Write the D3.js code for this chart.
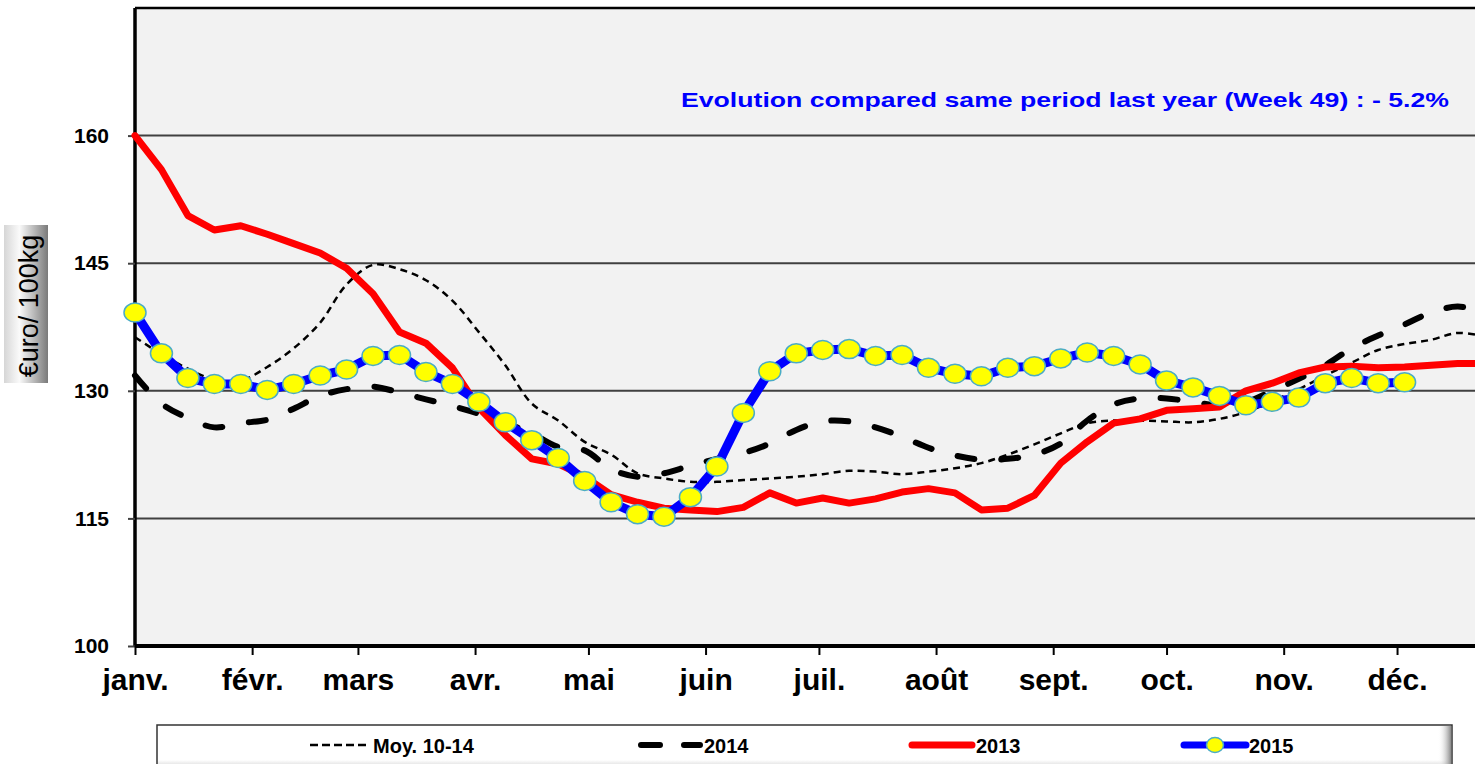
<!DOCTYPE html>
<html>
<head>
<meta charset="utf-8">
<script src="https://cdn.jsdelivr.net/npm/d3@7"></script>
<style>
  body { margin: 0; background: #fff; }
  svg { display: block; font-family: "Liberation Sans", Arial, sans-serif; }
</style>
</head>
<body>
<svg id="chart" width="1475" height="764"></svg>
<script>
// month labels and the day of year where each month starts
const months = ['janv.', 'févr.', 'mars', 'avr.', 'mai', 'juin', 'juil.', 'août', 'sept.', 'oct.', 'nov.', 'déc.'];
const monthStartDay = [0, 31, 59, 90, 120, 151, 181, 212, 243, 273, 304, 334];
const yTicks = [100, 115, 130, 145, 160];

// weekly prices, week 1 first
const moy1014 = [136.3, 134.3, 132.6, 131.3, 131.2, 132.8, 135.0, 138.0, 142.5, 144.8, 144.3, 143.0, 140.6,
  136.9, 133.0, 128.5, 126.5, 124.0, 122.5, 120.3, 119.7, 119.3, 119.3, 119.5, 119.7, 119.9, 120.2,
  120.6, 120.5, 120.2, 120.5, 120.9, 121.5, 122.5, 123.7, 125.0, 126.2, 126.5, 126.5, 126.4, 126.3,
  126.7, 127.5, 128.8, 130.2, 131.8, 133.3, 134.8, 135.5, 136.0, 136.8, 136.4];
const y2014 = [131.8, 128.5, 126.8, 125.7, 126.2, 126.6, 127.9, 129.4, 130.2, 130.5, 129.8, 129.0, 128.2,
  127.3, 126.2, 125.0, 123.4, 123.0, 120.8, 119.9, 120.3, 121.2, 122.0, 122.7, 123.8, 125.4, 126.4,
  126.4, 125.7, 124.6, 123.3, 122.4, 121.9, 122.0, 122.5, 123.8, 126.5, 128.4, 129.1, 129.1, 128.7,
  128.3, 128.7, 130.0, 131.4, 133.0, 135.0, 136.5, 137.8, 139.2, 139.9, 139.3];
const y2013 = [160.0, 156.0, 150.6, 148.9, 149.4, 148.4, 147.3, 146.2, 144.4, 141.4, 136.9, 135.6, 132.7,
  128.0, 124.8, 122.0, 121.4, 119.9, 117.8, 116.9, 116.2, 116.0, 115.8, 116.3, 118.0, 116.8, 117.4,
  116.8, 117.3, 118.1, 118.5, 118.0, 116.0, 116.2, 117.7, 121.5, 124.0, 126.2, 126.7, 127.7, 127.9,
  128.1, 130.0, 130.9, 132.1, 132.8, 132.9, 132.7, 132.8, 133.0, 133.2, 133.2];
const y2015 = [139.2, 134.4, 131.5, 130.8, 130.8, 130.1, 130.8, 131.8, 132.5, 134.1, 134.2, 132.2, 130.8,
  128.7, 126.3, 124.2, 122.1, 119.4, 116.9, 115.5, 115.2, 117.5, 121.1, 127.4, 132.3, 134.4, 134.8,
  134.9, 134.1, 134.2, 132.7, 132.0, 131.7, 132.7, 132.9, 133.8, 134.5, 134.1, 133.1, 131.2, 130.4,
  129.4, 128.3, 128.7, 129.2, 130.9, 131.5, 130.9, 131.0];

const svg = d3.select('#chart');
const W = 1475, H = 764;
const plot = {left: 135, top: 8, bottom: 646};

const x = d3.scaleLinear().domain([0, 365]).range([plot.left, plot.left + 365 * 26.45 / 7]);
const y = d3.scaleLinear().domain([100, 175]).range([plot.bottom, plot.top]);
const weekX = (d, i) => x(i * 7);

const defs = svg.append('defs');
const lg = defs.append('linearGradient').attr('id', 'ylab').attr('x1', 0).attr('x2', 1).attr('y1', 0).attr('y2', 0);
lg.append('stop').attr('offset', '0%').attr('stop-color', '#d6d6d6');
lg.append('stop').attr('offset', '35%').attr('stop-color', '#fafafa');
lg.append('stop').attr('offset', '100%').attr('stop-color', '#7a7a7a');
const leg = defs.append('linearGradient').attr('id', 'legbg').attr('x1', 0).attr('x2', 0).attr('y1', 0).attr('y2', 1);
leg.append('stop').attr('offset', '0%').attr('stop-color', '#ffffff');
leg.append('stop').attr('offset', '70%').attr('stop-color', '#ffffff');
leg.append('stop').attr('offset', '100%').attr('stop-color', '#a8a8a8');
const legR = defs.append('linearGradient').attr('id', 'legright').attr('x1', 0).attr('x2', 1).attr('y1', 0).attr('y2', 0);
legR.append('stop').attr('offset', '0%').attr('stop-color', '#ffffff').attr('stop-opacity', 0);
legR.append('stop').attr('offset', '100%').attr('stop-color', '#8a8a8a');

// plot background
svg.append('rect')
  .attr('x', plot.left).attr('y', plot.top)
  .attr('width', W - plot.left + 10).attr('height', plot.bottom - plot.top)
  .attr('fill', '#f2f2f2');

// gridlines
svg.append('g')
  .selectAll('line')
  .data(yTicks.slice(1))
  .enter().append('line')
  .attr('x1', plot.left).attr('x2', W + 10)
  .attr('y1', d => y(d)).attr('y2', d => y(d))
  .attr('stroke', '#404040').attr('stroke-width', 2);

// frame top + left
svg.append('line').attr('x1', plot.left).attr('x2', W + 10).attr('y1', plot.top).attr('y2', plot.top)
  .attr('stroke', '#000').attr('stroke-width', 2.5);

// y axis
const yAxis = svg.append('g')
  .attr('transform', `translate(${plot.left},0)`)
  .call(d3.axisLeft(y).tickValues(yTicks).tickSize(7).tickPadding(19).tickSizeOuter(0));
yAxis.select('.domain').attr('stroke', '#000').attr('stroke-width', 3.5)
  .attr('d', `M0,${plot.top}V${plot.bottom}`);
yAxis.selectAll('.tick line').attr('stroke', '#404040').attr('stroke-width', 2);
yAxis.selectAll('.tick text')
  .attr('font-size', 21).attr('font-weight', 'bold').attr('fill', '#000')
  .attr('font-family', '"Liberation Sans", Arial, sans-serif');

// x axis
const xAxis = svg.append('g')
  .attr('transform', `translate(0,${plot.bottom})`)
  .call(d3.axisBottom(x).tickValues(monthStartDay).tickFormat((d, i) => months[i]).tickSize(9).tickSizeOuter(0));
xAxis.select('.domain').attr('stroke', '#000').attr('stroke-width', 4)
  .attr('d', `M${plot.left},0H${W + 10}`);
xAxis.selectAll('.tick line').attr('stroke', '#000').attr('stroke-width', 2);
xAxis.selectAll('.tick text')
  .attr('y', 44).attr('dy', 0)
  .attr('font-size', 30).attr('font-weight', 'bold').attr('fill', '#000')
  .attr('font-family', '"Liberation Sans", Arial, sans-serif');

// series
const smooth = d3.line().x(weekX).y(d => y(d)).curve(d3.curveCatmullRom.alpha(0.5));
const straight = d3.line().x(weekX).y(d => y(d));

svg.append('path').datum(moy1014)
  .attr('d', smooth).attr('fill', 'none')
  .attr('stroke', '#000').attr('stroke-width', 2.5).attr('stroke-dasharray', '7,5');

svg.append('path').datum(y2014)
  .attr('d', smooth).attr('fill', 'none')
  .attr('stroke', '#000').attr('stroke-width', 6).attr('stroke-linecap', 'round')
  .attr('stroke-dasharray', '17,27');

svg.append('path').datum(y2013)
  .attr('d', straight).attr('fill', 'none')
  .attr('stroke', '#ff0000').attr('stroke-width', 7).attr('stroke-linejoin', 'round').attr('stroke-linecap', 'round');

svg.append('path').datum(y2015)
  .attr('d', straight).attr('fill', 'none')
  .attr('stroke', '#0000ff').attr('stroke-width', 9).attr('stroke-linejoin', 'round');

svg.append('g').selectAll('ellipse')
  .data(y2015)
  .enter().append('ellipse')
  .attr('cx', weekX).attr('cy', d => y(d))
  .attr('rx', 11).attr('ry', 9.5)
  .attr('fill', '#ffff00').attr('stroke', '#4bacc6').attr('stroke-width', 1.5);

// annotation
svg.append('text')
  .attr('x', 681).attr('y', 107)
  .attr('textLength', 768).attr('lengthAdjust', 'spacingAndGlyphs')
  .attr('font-size', 21).attr('font-weight', 'bold').attr('fill', '#0000ff')
  .text('Evolution compared same period last year (Week 49) : - 5.2%');

// y label box
svg.append('rect').attr('x', 4).attr('y', 225).attr('width', 44).attr('height', 158).attr('fill', 'url(#ylab)');
svg.append('text')
  .attr('transform', 'translate(38,306) rotate(-90)')
  .attr('text-anchor', 'middle')
  .attr('font-size', 27).attr('fill', '#000')
  .text('€uro/ 100kg');

// legend
const lgG = svg.append('g');
lgG.append('rect').attr('x', 157).attr('y', 725).attr('width', 1295).attr('height', 50)
  .attr('fill', 'url(#legbg)').attr('stroke', '#333').attr('stroke-width', 1.5);
lgG.append('rect').attr('x', 1438).attr('y', 726).attr('width', 13).attr('height', 48)
  .attr('fill', 'url(#legright)');

const legendItems = [
  {name: 'Moy. 10-14', x1: 310, x2: 368, color: '#000', width: 2.5, dash: '8,4', cap: 'butt', tx: 373},
  {name: '2014', x1: 641, x2: 700, color: '#000', width: 6, dash: '19,24', cap: 'round', tx: 704},
  {name: '2013', x1: 912, x2: 972, color: '#ff0000', width: 7, dash: null, cap: 'round', tx: 976},
  {name: '2015', x1: 1184, x2: 1246, color: '#0000ff', width: 7, dash: null, cap: 'round', tx: 1249, marker: true}
];
const li = lgG.selectAll('g.item').data(legendItems).enter().append('g').attr('class', 'item');
li.append('line')
  .attr('x1', d => d.x1).attr('x2', d => d.x2).attr('y1', 745).attr('y2', 745)
  .attr('stroke', d => d.color).attr('stroke-width', d => d.width)
  .attr('stroke-linecap', d => d.cap)
  .attr('stroke-dasharray', d => d.dash);
li.filter(d => d.marker).append('ellipse')
  .attr('cx', d => (d.x1 + d.x2) / 2).attr('cy', 745).attr('rx', 8.5).attr('ry', 7.5)
  .attr('fill', '#ffff00').attr('stroke', '#4bacc6').attr('stroke-width', 1.5);
li.append('text')
  .attr('x', d => d.tx).attr('y', 753)
  .attr('font-size', 20).attr('font-weight', 'bold').attr('fill', '#000')
  .text(d => d.name);
</script>
</body>
</html>
